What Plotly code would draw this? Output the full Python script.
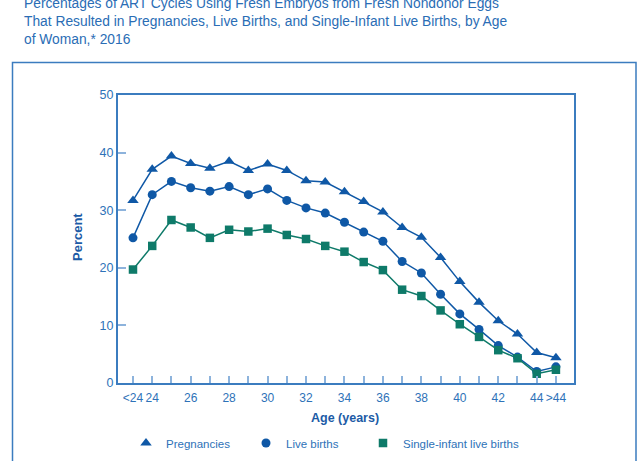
import plotly.graph_objects as go

categories = ["<24"] + [str(a) for a in range(24, 45)] + [">44"]
tick_labels = ["<24", "24", "", "26", "", "28", "", "30", "", "32", "", "34", "", "36", "", "38", "", "40", "", "42", "", "44", ">44"]

pregnancies = [31.7, 37.1, 39.4, 38.1, 37.3, 38.5, 36.9, 38.0, 36.9, 35.1, 34.9, 33.2, 31.5, 29.7, 27.0, 25.3, 21.8, 17.6, 14.0, 10.8, 8.5, 5.3, 4.4]
live_births = [25.2, 32.7, 35.0, 33.9, 33.3, 34.1, 32.7, 33.7, 31.7, 30.4, 29.5, 27.9, 26.2, 24.6, 21.1, 19.1, 15.4, 12.0, 9.3, 6.5, 4.5, 2.0, 2.8]
single_births = [19.7, 23.8, 28.3, 27.0, 25.2, 26.6, 26.3, 26.8, 25.7, 25.0, 23.8, 22.8, 21.0, 19.6, 16.2, 15.1, 12.6, 10.2, 8.0, 5.7, 4.3, 1.6, 2.3]

series_names = ["Pregnancies", "Live births", "Single-infant live births"]

BLUE = "#0f58a6"
TEAL = "#0e7a69"
AXIS = "#3b7cbf"
TICK = "#8db3dc"
LABEL = "#2e72b8"
TITLE = "#2a6db5"
DARK = "#1c5ba6"

x = list(range(len(categories)))

L, R, T, B = 118, 66, 95, 78
W, H = 640, 461
pw, ph = W - L - R, H - T - B

def px(xp):
    return (xp - L) / pw

def py(yp):
    return (H - B - yp) / ph

fig = go.Figure()
specs = [
    (pregnancies, series_names[0], BLUE, "triangle-up", 10, "legend"),
    (live_births, series_names[1], BLUE, "circle", 9, "legend2"),
    (single_births, series_names[2], TEAL, "square", 8.5, "legend3"),
]
for vals, name, col, sym, size, lg in specs:
    fig.add_trace(go.Scatter(x=x, y=vals, mode="lines", showlegend=False, hoverinfo="skip",
                             line=dict(color=col, width=1.5)))
for vals, name, col, sym, size, lg in specs:
    fig.add_trace(go.Scatter(x=x, y=vals, mode="markers", name=name, legend=lg,
                             marker=dict(symbol=sym, size=size, color=col)))

def leg(sym_x):
    return dict(orientation="h", x=px(sym_x - 20), xanchor="left", y=py(443), yanchor="middle",
                font=dict(size=11.5, color=LABEL), itemwidth=30,
                bgcolor="rgba(0,0,0,0)", borderwidth=0)

fig.update_layout(
    width=W, height=H,
    margin=dict(l=L, r=R, t=T, b=B, pad=0, autoexpand=False),
    paper_bgcolor="white", plot_bgcolor="white",
    font=dict(family="Liberation Sans, Arial, sans-serif", color=LABEL),
    showlegend=True,
    legend=leg(146), legend2=leg(266), legend3=leg(383),
    xaxis=dict(range=[-0.78, 22.94], tickmode="array", tickvals=x, ticktext=tick_labels,
               tickangle=0, ticks="inside", ticklen=7, tickwidth=1.5, tickcolor=TICK,
               ticklabelstandoff=3,
               showline=True, linecolor=AXIS, linewidth=2, mirror=True,
               showgrid=False, zeroline=False, tickfont=dict(size=12, color=LABEL)),
    yaxis=dict(range=[0, 50], tickvals=[0, 10, 20, 30, 40, 50],
               ticks="inside", ticklen=8, tickwidth=1.5, tickcolor=TICK,
               showline=True, linecolor=AXIS, linewidth=2, mirror=True,
               showgrid=False, zeroline=False, tickfont=dict(size=12.5, color=LABEL)),
)

title_lines = [
    ("Percentages of ART Cycles Using Fresh Embryos from Fresh Nondonor Eggs", 3),
    ("That Resulted in Pregnancies, Live Births, and Single-Infant Live Births, by Age", 21),
    ("of Woman,* 2016", 39),
]
for txt, yc in title_lines:
    fig.add_annotation(text=txt, xref="paper", yref="paper", x=px(22), y=py(yc),
                       xanchor="left", yanchor="middle", showarrow=False,
                       font=dict(size=13.8, color=TITLE))

fig.add_annotation(text="<b>Percent</b>", xref="paper", yref="paper", x=px(77), y=py(237),
                   xanchor="center", yanchor="middle", textangle=-90, showarrow=False,
                   font=dict(size=13, color=DARK))
fig.add_annotation(text="<b>Age (years)</b>", xref="paper", yref="paper", x=px(345), y=py(418),
                   xanchor="center", yanchor="middle", showarrow=False,
                   font=dict(size=12.5, color=DARK))

fig.add_shape(type="rect", xref="paper", yref="paper",
              x0=px(12.5), x1=px(636), y0=py(475), y1=py(62.5),
              line=dict(color=AXIS, width=1.5), fillcolor="rgba(0,0,0,0)", layer="below")

fig.write_html("out.html")
